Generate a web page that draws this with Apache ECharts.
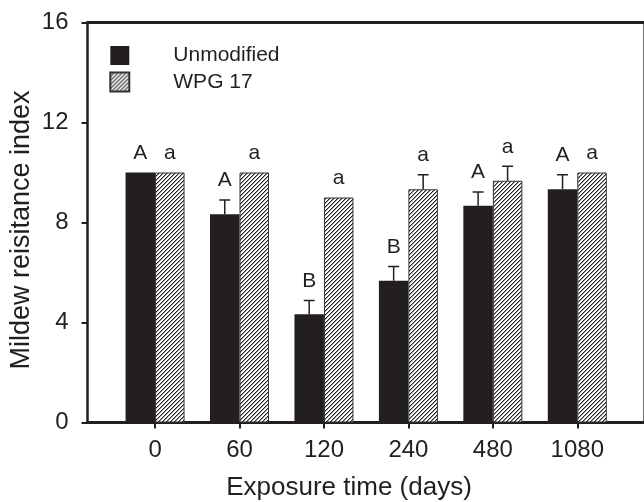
<!DOCTYPE html>
<html>
<head>
<meta charset="utf-8">
<script src="https://cdn.jsdelivr.net/npm/echarts@6/dist/echarts.min.js"></script>
<style>
  html, body { margin: 0; padding: 0; background: #fff; }
  #chart { width: 644px; height: 502px; }
</style>
</head>
<body>
<div id="chart"></div>
<script>
// exposure times (days) shown on the x axis
const days = ['0', '60', '120', '240', '480', '1080'];
const xPos = [0, 1, 2, 3, 4, 5];

// mildew resistance index, with upper error (SD) and significance letters
const unmodified = [10, 8.33, 4.33, 5.67, 8.67, 9.33];
const unmodifiedErr = [0, 0.57, 0.55, 0.57, 0.55, 0.58];
const unmodifiedLetters = ['A', 'A', 'B', 'B', 'A', 'A'];

const wpg17 = [10, 10, 9, 9.33, 9.67, 10];
const wpg17Err = [0, 0, 0, 0.58, 0.58, 0];
const wpg17Letters = ['a', 'a', 'a', 'a', 'a', 'a'];

const ink = '#231f20';
const font = "'Liberation Sans', Arial, sans-serif";
const barW = 29.5;

// hatched fill "////"
function hatch() {
  const c = document.createElement('canvas');
  c.width = 4; c.height = 4;
  const g = c.getContext('2d');
  g.fillStyle = '#fff';
  g.fillRect(0, 0, 4, 4);
  g.fillStyle = '#222';
  for (let i = 0; i < 4; i++) g.fillRect(i, 3 - i, 1, 1);
  g.fillStyle = '#9a9a9a';
  for (let i = 0; i < 4; i++) g.fillRect((i + 1) % 4, 3 - i, 1, 1);
  return { image: c, repeat: 'repeat' };
}

function errSeries(vals, errs, letters, off) {
  return {
    type: 'custom',
    z: 5,
    data: xPos.map((x, i) => [x, vals[i]]),
    renderItem: function (params, api) {
      const i = params.dataIndex;
      const base = api.coord([xPos[i], vals[i]]);
      const top = api.coord([xPos[i], vals[i] + errs[i]]);
      const cx = base[0] + off;
      const kids = [];
      if (errs[i] > 0) {
        kids.push({
          type: 'line',
          shape: { x1: cx, y1: base[1], x2: cx, y2: top[1] },
          style: { stroke: ink, lineWidth: 1.5 }
        });
        kids.push({
          type: 'line',
          shape: { x1: cx - 5.5, y1: top[1], x2: cx + 5.5, y2: top[1] },
          style: { stroke: ink, lineWidth: 1.5 }
        });
      }
      kids.push({
        type: 'text',
        style: {
          text: letters[i], x: cx, y: top[1] - 9,
          align: 'center', verticalAlign: 'bottom',
          fill: ink, font: '21px ' + font
        }
      });
      return { type: 'group', children: kids };
    }
  };
}

const chart = echarts.init(document.getElementById('chart'));
chart.setOption({
  animation: false,
  grid: { left: 87.5, right: 0.5, top: 22.5, bottom: 79.5, outerBoundsMode: 'none' },
  legend: {
    orient: 'vertical',
    left: 109.3, top: 45,
    padding: 0,
    itemWidth: 19, itemHeight: 19, itemGap: 5.5,
    icon: 'rect',
    data: ['Unmodified', 'WPG 17'],
    textStyle: { fontSize: 21, fontFamily: font, color: ink, padding: [0, 0, 0, 39] }
  },
  xAxis: [{
    type: 'value',
    min: -0.8, max: 5.784,
    splitLine: { show: false },
    axisLine: { onZero: false, lineStyle: { color: ink, width: 3 } },
    axisTick: { customValues: xPos, length: 6, lineStyle: { color: ink, width: 2 } },
    axisLabel: {
      customValues: xPos, margin: 16,
      formatter: v => days[Math.round(v)],
      fontSize: 24, fontFamily: font, color: ink
    }
  }, {
    type: 'value', position: 'top',
    min: -0.8, max: 5.784,
    splitLine: { show: false },
    axisLine: { show: true, onZero: false, lineStyle: { color: ink, width: 3 } },
    axisTick: { show: false }, axisLabel: { show: false }
  }],
  yAxis: [{
    type: 'value',
    min: 0, max: 16, interval: 4,
    splitLine: { show: false },
    axisLine: { show: true, onZero: false, lineStyle: { color: ink, width: 2.5 } },
    axisTick: { show: true, length: 6, lineStyle: { color: ink, width: 2 } },
    axisLabel: { margin: 19, fontSize: 24, fontFamily: font, color: ink }
  }, {
    type: 'value', position: 'right',
    min: 0, max: 16,
    splitLine: { show: false },
    axisLine: { show: true, onZero: false, lineStyle: { color: '#777', width: 1 } },
    axisTick: { show: false }, axisLabel: { show: false }
  }],
  graphic: [{
    type: 'text',
    style: {
      text: 'Exposure time (days)', x: 349, y: 488,
      align: 'center', verticalAlign: 'middle',
      fill: ink, font: '26px ' + font
    }
  }, {
    type: 'text',
    rotation: Math.PI / 2,
    x: 22, y: 230,
    style: {
      text: 'Mildew reisitance index', x: 0, y: 0,
      align: 'center', verticalAlign: 'middle',
      fill: ink, font: '27px ' + font
    }
  }],
  series: [{
    name: 'Unmodified',
    type: 'bar',
    barWidth: barW, barGap: '0%',
    itemStyle: { color: ink },
    data: xPos.map((x, i) => [x, unmodified[i]])
  }, {
    name: 'WPG 17',
    type: 'bar',
    barWidth: barW, barGap: '0%',
    itemStyle: { color: hatch(), borderColor: '#333', borderWidth: 1 },
    data: xPos.map((x, i) => [x, wpg17[i]])
  },
  errSeries(unmodified, unmodifiedErr, unmodifiedLetters, -barW / 2),
  errSeries(wpg17, wpg17Err, wpg17Letters, barW / 2)
  ]
});
</script>
</body>
</html>
